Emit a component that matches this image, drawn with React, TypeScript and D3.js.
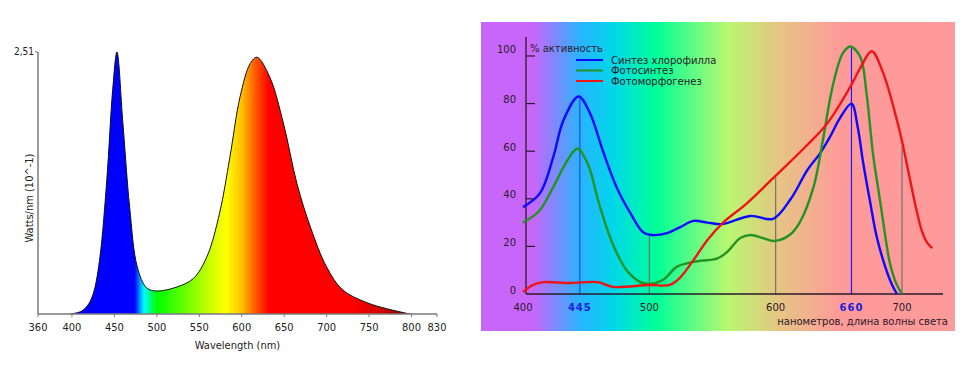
import * as React from "react";
import * as d3 from "d3";

// left chart: LED spectrum, Watts/nm (10^-1)
const specWl = [398, 405, 412, 420, 426, 433, 441, 448, 453, 460, 468, 477, 488, 500, 524, 543, 559, 574, 586, 598, 610, 618, 633, 649, 665, 681, 700, 719, 747, 771, 798];
const specVal = [0, 0.01, 0.03, 0.1, 0.22, 0.55, 1.28, 2.15, 2.51, 1.83, 1.02, 0.45, 0.25, 0.22, 0.26, 0.34, 0.55, 0.97, 1.5, 2.08, 2.4, 2.46, 2.27, 1.83, 1.25, 0.83, 0.45, 0.23, 0.11, 0.05, 0];
const specTicks = [360, 400, 450, 500, 550, 600, 650, 700, 750, 800, 830];
const specMax = 2.51;

// fill colour by wavelength
const fillStops: [number, string][] = [
	[400, "#0000ff"],
	[474, "#0000ff"],
	[479, "#0080ff"],
	[485, "#00ffff"],
	[492, "#00ff80"],
	[500, "#00ff00"],
	[540, "#80ff00"],
	[572, "#e8ff00"],
	[582, "#ffff00"],
	[600, "#ffc000"],
	[615, "#ff6000"],
	[632, "#ff0000"],
	[730, "#ff0000"],
	[765, "#d00000"],
	[800, "#800000"],
];

// right chart: action spectra, % activity
const blueWl = [400, 413.5, 424, 432, 444, 453, 463, 474, 485, 495, 502, 514, 524, 535, 546, 558, 580, 598, 612, 625, 635, 643, 651, 660, 665, 669, 675, 680, 687, 692, 696];
const blueVal = [36.5, 42.4, 57.6, 73, 83, 76, 60.5, 45, 34, 26, 24.8, 25.6, 28, 30.7, 30, 29.4, 32.8, 31.6, 40, 52, 59, 66, 74, 80, 70, 56, 38, 24, 11, 4, 0];

const greenWl = [400, 413, 424, 435, 443, 451, 461, 471, 482, 493, 500.5, 511, 522, 535, 554, 561.5, 572, 580, 590, 599, 611, 619, 630, 637.5, 645, 653, 659, 667, 672, 677, 683, 688, 690, 695, 700];
const greenVal = [30, 35, 45, 56, 61, 55, 36.5, 21, 10, 5, 4.2, 6, 11.5, 13.5, 15, 17.6, 23.5, 24.8, 23.5, 22.3, 24.8, 30, 45, 65, 87, 101, 104, 99.6, 84, 59, 38, 20, 14, 5, 0];

const redWl = [400, 408, 416, 437, 459, 471, 500, 516, 524, 535, 546, 558, 577, 598, 625, 641, 659, 667, 676, 685, 696, 701, 706, 712, 716, 720, 724];
const redVal = [0.8, 3.8, 5, 4.6, 5, 3, 3.8, 3.8, 6.7, 14.3, 22.7, 29.8, 38, 48.7, 62.6, 71.8, 87, 95, 102, 93, 73, 61.8, 49, 34, 26, 21.5, 19.3];

const seriesNames = ["Синтез хлорофилла", "Фотосинтез", "Фотоморфогенез"];
const seriesColors = ["#0a0aff", "#239323", "#f01515"];

const markerWl = [445, 500, 600, 660, 700];
const markerTop = [83, 24.8, 49, 104, 62];
const markerColors = ["#2848d8", "#707070", "#707070", "#1a1aff", "#707070"];

const actXTicks = [400, 445, 500, 600, 660, 700];
const actYTicks = [0, 20, 40, 60, 80, 100];

const bgStops: [number, string][] = [
	[0, "#c966fa"],
	[0.11, "#c966fa"],
	[0.21, "#28b4ff"],
	[0.28, "#00d8e8"],
	[0.37, "#00ff99"],
	[0.52, "#b8f870"],
	[0.63, "#e6c484"],
	[0.76, "#ff9a9a"],
	[1, "#ff9a9a"],
];

const narrow = "'Liberation Sans Narrow', 'DejaVu Sans Condensed', 'Arial Narrow', sans-serif";
const verdana = "'DejaVu Sans', Verdana, sans-serif";

function Spectrum() {
	const x = d3.scaleLinear([360, 830], [38, 437]);
	const y = d3.scaleLinear([0, specMax], [314, 52]);
	const pts = specWl.map((w, i) => [w, specVal[i]] as [number, number]);
	const curve = d3.curveCatmullRom.alpha(0.5);
	const area = d3
		.area<[number, number]>()
		.x((d) => x(d[0]))
		.y0(y(0))
		.y1((d) => y(d[1]))
		.curve(curve);
	const line = d3
		.line<[number, number]>()
		.x((d) => x(d[0]))
		.y((d) => y(d[1]))
		.curve(curve);
	const g0 = x(400);
	const g1 = x(800);
	return (
		<g fontFamily={narrow} fontSize={11} fill="#222">
			<defs>
				<linearGradient id="specFill" gradientUnits="userSpaceOnUse" x1={g0} x2={g1} y1={0} y2={0}>
					{fillStops.map(([w, c]) => (
						<stop key={w} offset={(w - 400) / 400} stopColor={c} />
					))}
				</linearGradient>
				<clipPath id="specClip">
					<rect x={x(360)} y={0} width={x(830) - x(360)} height={y(0)} />
				</clipPath>
			</defs>
			<g clipPath="url(#specClip)">
				<path d={area(pts)!} fill="url(#specFill)" />
				<path d={line(pts)!} fill="none" stroke="#111" strokeWidth={1} />
			</g>
			<line x1={x(360)} x2={x(360)} y1={y(specMax)} y2={y(0)} stroke="#7a7a7a" strokeWidth={1.5} />
			<line x1={x(360)} x2={x(830)} y1={y(0)} y2={y(0)} stroke="#7a7a7a" strokeWidth={1.5} />
			<line x1={x(360) - 3} x2={x(360)} y1={y(specMax)} y2={y(specMax)} stroke="#7a7a7a" />
			<text x={x(360) - 4} y={y(specMax)} dy="0.32em" textAnchor="end" fontSize={10}>
				2,51
			</text>
			{specTicks.map((t) => (
				<g key={t}>
					<line x1={x(t)} x2={x(t)} y1={y(0)} y2={y(0) + 3} stroke="#7a7a7a" />
					<text x={x(t)} y={y(0) + 17} textAnchor="middle">
						{t}
					</text>
				</g>
			))}
			<text x={x(595)} y={349} textAnchor="middle">
				Wavelength (nm)
			</text>
			<text transform={`translate(33,${(y(0) + y(specMax)) / 2 + 15}) rotate(-90)`} textAnchor="middle">
				Watts/nm (10^-1)
			</text>
		</g>
	);
}

function ActionSpectra() {
	const x = d3.scaleLinear([400, 700], [523, 902]);
	const y = d3.scaleLinear([0, 100], [294, 56]);
	const line = d3
		.line<[number, number]>()
		.x((d) => x(d[0]))
		.y((d) => y(d[1]))
		.curve(d3.curveCatmullRom.alpha(0.5));
	const series = [
		blueWl.map((w, i) => [w, blueVal[i]] as [number, number]),
		greenWl.map((w, i) => [w, greenVal[i]] as [number, number]),
		redWl.map((w, i) => [w, redVal[i]] as [number, number]),
	];
	const bx0 = 481;
	const bx1 = 955;
	return (
		<g fontFamily={verdana} fontSize={10} fill="#2a1a2a">
			<defs>
				<linearGradient id="bgFill" gradientUnits="userSpaceOnUse" x1={bx0} x2={bx1} y1={0} y2={0}>
					{bgStops.map(([o, c]) => (
						<stop key={o} offset={o} stopColor={c} />
					))}
				</linearGradient>
			</defs>
			<rect x={bx0} y={22} width={bx1 - bx0} height={309} fill="url(#bgFill)" />
			{markerWl.map((w, i) => (
				<line
					key={w}
					x1={x(w)}
					x2={x(w)}
					y1={y(0)}
					y2={y(markerTop[i])}
					stroke={markerColors[i]}
					strokeWidth={1.2}
				/>
			))}
			<line x1={x(400) + 3} x2={x(400) + 3} y1={y(108)} y2={y(0)} stroke="#2a1a2a" strokeWidth={1.3} />
			<line x1={x(400) + 3} x2={943} y1={y(0)} y2={y(0)} stroke="#2a1a2a" strokeWidth={1.3} />
			{actYTicks.map((t) => (
				<g key={t}>
					{t > 0 && (
						<line x1={x(400) + 3} x2={x(400) + 12} y1={y(t)} y2={y(t)} stroke="#2a1a2a" strokeWidth={1.2} />
					)}
					<text x={x(400) - 7} y={y(t) - (t === 100 ? 7 : 4)} dy="0.35em" textAnchor="end">
						{t}
					</text>
				</g>
			))}
			{actXTicks.map((t) => {
				const hl = t === 445 || t === 660;
				return (
					<text
						key={t}
						x={x(t)}
						y={311}
						textAnchor="middle"
						fill={hl ? "#1c1ce0" : "#2a1a2a"}
						fontWeight={hl ? "bold" : "normal"}
						letterSpacing={hl ? 1 : 0}
					>
						{t}
					</text>
				);
			})}
			<text x={948} y={325} textAnchor="end">
				нанометров, длина волны света
			</text>
			<text x={530} y={52}>
				% активность
			</text>
			{series.map((s, i) => (
				<path key={i} d={line(s)!} fill="none" stroke={seriesColors[i]} strokeWidth={2.4} />
			))}
			{seriesNames.map((n, i) => (
				<g key={n}>
					<line x1={576} x2={603} y1={60 + i * 10.5} y2={60 + i * 10.5} stroke={seriesColors[i]} strokeWidth={2} />
					<text x={611} y={60 + i * 10.5} dy="0.35em">
						{n}
					</text>
				</g>
			))}
		</g>
	);
}

export default function App() {
	return (
		<svg
			width={975}
			height={365}
			style={{ position: "fixed", left: 0, top: 0, background: "#fff" }}
		>
			<Spectrum />
			<ActionSpectra />
		</svg>
	);
}
